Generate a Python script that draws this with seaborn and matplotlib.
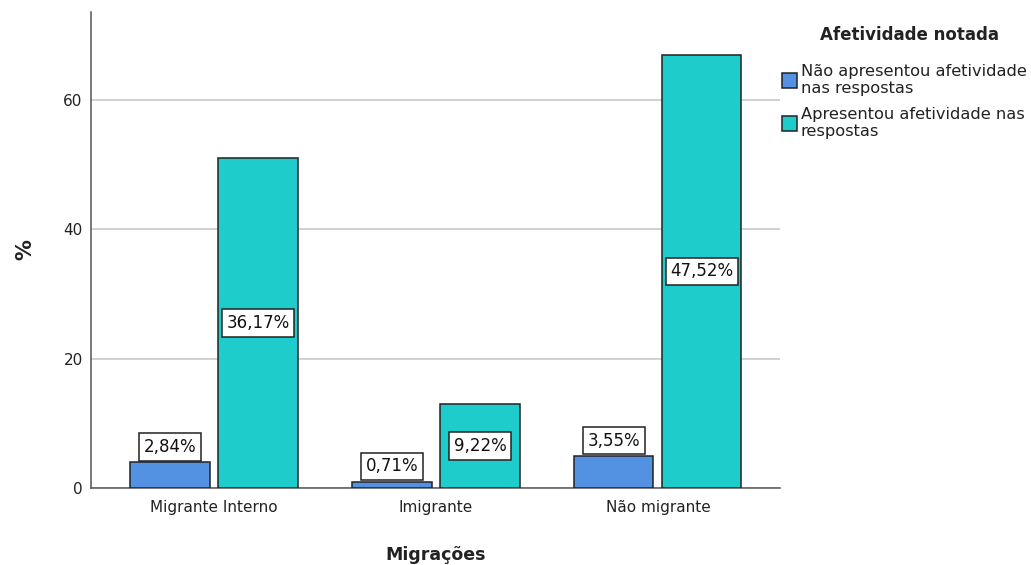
import matplotlib
matplotlib.use("Agg")
import matplotlib.pyplot as plt
import seaborn as sns
import pandas as pd

# Respondent counts per migration group and affectivity answer
groups = ["Migrante Interno", "Imigrante", "Não migrante"]
affect_levels = ["Não apresentou afetividade\nnas respostas",
                 "Apresentou afetividade nas\nrespostas"]
no_affect_counts = [4, 1, 5]
affect_counts = [51, 13, 67]
total = sum(no_affect_counts) + sum(affect_counts)

palette = ["#5391E2", "#1FCCCC"]

df = pd.DataFrame({
    "Migrações": groups * 2,
    "Afetividade": [affect_levels[0]] * 3 + [affect_levels[1]] * 3,
    "n": no_affect_counts + affect_counts,
})

sns.set_theme(style="white")
plt.rcParams["font.family"] = ["DejaVu Sans"]

fig = plt.figure(figsize=(10.31, 5.65), dpi=100)
ax = fig.add_axes([0.0883, 0.1363, 0.6682, 0.8425])

sns.barplot(data=df, x="Migrações", y="n", hue="Afetividade",
            order=groups, hue_order=affect_levels, palette=palette,
            width=0.793, gap=0.1, edgecolor="#222222", linewidth=1.1,
            saturation=1, ax=ax, zorder=3)

ax.set_xlim(-0.554, 2.55)
ax.set_ylim(0, 73.6)
ax.set_yticks([0, 20, 40, 60])
ax.yaxis.grid(True, color="#c9c9c9", linewidth=1.2, zorder=0)
ax.set_axisbelow(True)
for side in ("top", "right"):
    ax.spines[side].set_visible(False)
for side in ("left", "bottom"):
    ax.spines[side].set_color("#555555")
    ax.spines[side].set_linewidth(1.1)
ax.tick_params(axis="both", length=0, labelsize=11, colors="#222222", pad=6)
ax.tick_params(axis="x", pad=9)
ax.set_xlabel("Migrações", fontsize=12.5, fontweight="bold", labelpad=22,
              color="#222222")
ax.set_ylabel("%", fontsize=15, fontweight="bold", labelpad=20, color="#222222")

# Percent-of-total labels in boxes
box = dict(boxstyle="square,pad=0.28", facecolor="white",
           edgecolor="#222222", linewidth=1.1)
for level_idx, container in enumerate(ax.containers):
    for bar in container:
        h = bar.get_height()
        pct = h / total * 100
        txt = f"{pct:.2f}%".replace(".", ",")
        cx = bar.get_x() + bar.get_width() / 2
        if level_idx == 1:
            ax.text(cx, h / 2, txt, ha="center", va="center", fontsize=12,
                    bbox=box, zorder=5, color="#111111")
        else:
            ax.text(cx, h + 0.95, txt, ha="center", va="bottom", fontsize=12,
                    bbox=box, zorder=5, color="#111111")

# Legend title drawn separately so its spacing to the entries can be set
fig.text(910 / 1031, 1 - 35 / 565, "Afetividade notada", ha="center",
         va="center", fontsize=12, fontweight="bold", color="#222222")
handles, labels = ax.get_legend_handles_labels()
ax.legend(handles, labels, loc="upper left", bbox_to_anchor=(0.991, 0.907),
          frameon=False, fontsize=11.7, handlelength=0.9, handleheight=1.1,
          handletextpad=0.25, labelspacing=0.7, borderaxespad=0.1)
leg = ax.get_legend()
for t in leg.get_texts():
    t.set_linespacing(1.12)
    t.set_color("#222222")

fig.savefig("out.png", dpi=100)
